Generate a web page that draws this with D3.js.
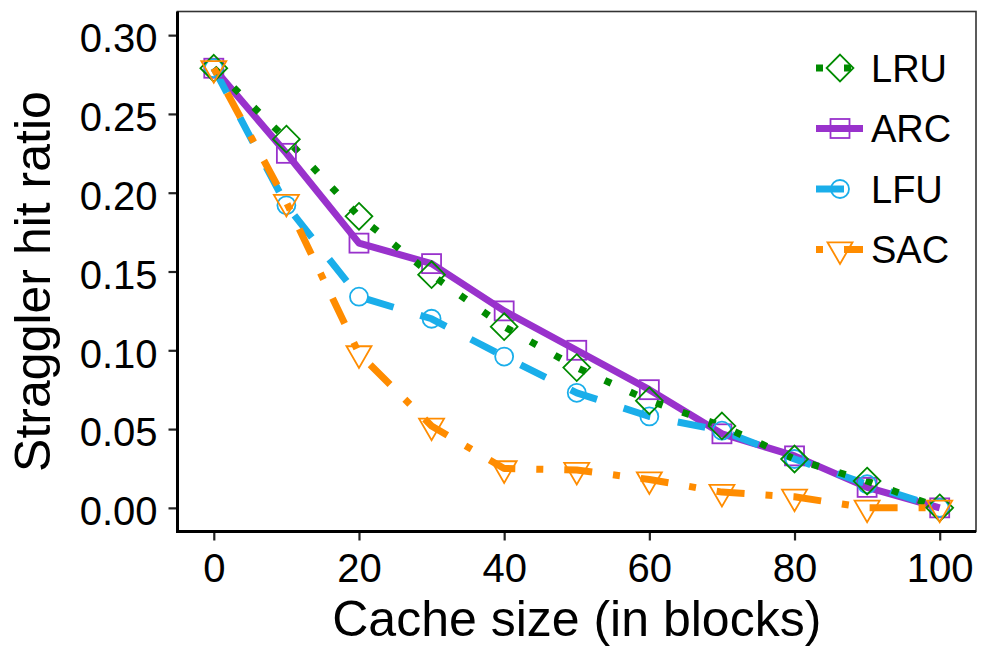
<!DOCTYPE html>
<html>
<head>
<meta charset="utf-8">
<script src="https://cdn.jsdelivr.net/npm/d3@7"></script>
<style>
  html, body { margin: 0; padding: 0; background: #fff; }
  svg { display: block; font-family: "Liberation Sans", Arial, Helvetica, sans-serif; }
</style>
</head>
<body>
<svg id="chart" width="984" height="646"></svg>
<script>
// ---- Data ----
const cacheSizes = [0, 10, 20, 30, 40, 50, 60, 70, 80, 90, 100];
const lruValues = [0.279, 0.234, 0.185, 0.148, 0.115, 0.089, 0.068, 0.052, 0.031, 0.017, 0.000];
const arcValues = [0.279, 0.225, 0.168, 0.155, 0.125, 0.100, 0.075, 0.047, 0.033, 0.013, 0.000];
const lfuValues = [0.279, 0.192, 0.134, 0.120, 0.096, 0.073, 0.058, 0.049, 0.031, 0.015, 0.000];
const sacValues = [0.279, 0.194, 0.098, 0.052, 0.025, 0.024, 0.018, 0.010, 0.007, 0.000, 0.000];
const xTicks = [0, 20, 40, 60, 80, 100];
const yTicks = [0.00, 0.05, 0.10, 0.15, 0.20, 0.25, 0.30];
const legendOrder = ["LRU", "ARC", "LFU", "SAC"];
const drawOrder = ["ARC", "LFU", "LRU", "SAC"];

const seriesValues = { LRU: lruValues, ARC: arcValues, LFU: lfuValues, SAC: sacValues };
const styles = {
  LRU: { color: "#008B00", dash: "7 21", shape: "diamond" },
  ARC: { color: "#9932CC", dash: null, shape: "square" },
  LFU: { color: "#1AAEEA", dash: "28 28", shape: "circle" },
  SAC: { color: "#FF8C00", dash: "7 21 28 21", shape: "triangle" }
};

// ---- Layout ----
const panel = { left: 177.5, right: 976, top: 11.5, bottom: 531.5 };
const svg = d3.select("#chart");

const x = d3.scaleLinear().domain([-5, 105]).range([panel.left, panel.right]);
const y = d3.scaleLinear().domain([-0.015, 0.315]).range([panel.bottom, panel.top]);

// panel border (thin top/right)
svg.append("rect")
  .attr("x", panel.left).attr("y", panel.top)
  .attr("width", panel.right - panel.left).attr("height", panel.bottom - panel.top)
  .attr("fill", "#fff").attr("stroke", "#333").attr("stroke-width", 1.6);

// axes
const xAxis = d3.axisBottom(x).tickValues(xTicks).tickSize(9).tickPadding(12).tickFormat(d3.format("d"));
const yAxis = d3.axisLeft(y).tickValues(yTicks).tickSize(9).tickPadding(10).tickFormat(d3.format(".2f"));

const gx = svg.append("g").attr("transform", `translate(0,${panel.bottom})`).call(xAxis);
const gy = svg.append("g").attr("transform", `translate(${panel.left},0)`).call(yAxis);

[gx, gy].forEach(g => {
  g.select(".domain").remove();
  g.selectAll(".tick line").attr("stroke", "#222").attr("stroke-width", 2.2);
  g.selectAll(".tick text").attr("fill", "#000").attr("font-size", 40)
    .attr("font-family", "'Liberation Sans', Arial, sans-serif");
});
gx.selectAll(".tick text").attr("dy", null).attr("y", null)
  .attr("transform", null).each(function() {
    d3.select(this).attr("y", 582 - panel.bottom).attr("dy", 0);
  });
gy.selectAll(".tick text").attr("dy", "0.42em").attr("x", -20);

// thick left/bottom axis lines
svg.append("line").attr("x1", panel.left).attr("x2", panel.left)
  .attr("y1", panel.top).attr("y2", panel.bottom + 1.5)
  .attr("stroke", "#000").attr("stroke-width", 3);
svg.append("line").attr("x1", panel.left - 1.5).attr("x2", panel.right)
  .attr("y1", panel.bottom).attr("y2", panel.bottom)
  .attr("stroke", "#000").attr("stroke-width", 3);

// axis titles
svg.append("text")
  .attr("x", (panel.left + panel.right) / 2).attr("y", 636)
  .attr("text-anchor", "middle").attr("font-size", 50).attr("fill", "#000")
  .text("Cache size (in blocks)");
svg.append("text")
  .attr("transform", `translate(50,${(panel.top + panel.bottom) / 2 + 10}) rotate(-90)`)
  .attr("text-anchor", "middle").attr("font-size", 50).attr("fill", "#000")
  .text("Straggler hit ratio");

// ---- Marker drawing ----
function drawMarker(g, shape, cx, cy, color) {
  const sw = 1.8;
  if (shape === "diamond") {
    const r = 13.4;
    g.append("path").attr("d", `M${cx},${cy - r}L${cx + r},${cy}L${cx},${cy + r}L${cx - r},${cy}Z`)
      .attr("fill", "none").attr("stroke", color).attr("stroke-width", sw);
  } else if (shape === "square") {
    const h = 9.5;
    g.append("rect").attr("x", cx - h).attr("y", cy - h).attr("width", 2 * h).attr("height", 2 * h)
      .attr("fill", "none").attr("stroke", color).attr("stroke-width", sw);
  } else if (shape === "circle") {
    g.append("circle").attr("cx", cx).attr("cy", cy).attr("r", 9)
      .attr("fill", "none").attr("stroke", color).attr("stroke-width", sw);
  } else if (shape === "triangle") {
    const hw = 12.5, r = 14.4;
    g.append("path").attr("d", `M${cx - hw},${cy - r / 2}L${cx + hw},${cy - r / 2}L${cx},${cy + r}Z`)
      .attr("fill", "none").attr("stroke", color).attr("stroke-width", sw);
  }
}

// ---- Lines ----
const line = d3.line().x(d => x(d[0])).y(d => y(d[1]));
const linesG = svg.append("g");
drawOrder.forEach(name => {
  const data = cacheSizes.map((c, i) => [c, seriesValues[name][i]]);
  const st = styles[name];
  const p = linesG.append("path").datum(data)
    .attr("d", line).attr("fill", "none")
    .attr("stroke", st.color).attr("stroke-width", 7)
    .attr("stroke-linejoin", "round").attr("stroke-linecap", "butt");
  if (st.dash) p.attr("stroke-dasharray", st.dash);
});

// ---- Points ----
const pointsG = svg.append("g");
drawOrder.forEach(name => {
  const st = styles[name];
  cacheSizes.forEach((c, i) => {
    drawMarker(pointsG, st.shape, x(c), y(seriesValues[name][i]), st.color);
  });
});

// ---- Legend ----
const legendG = svg.append("g");
legendOrder.forEach((name, i) => {
  const st = styles[name];
  const cy = 68 + i * 60.5;
  const l = legendG.append("line").attr("x1", 816).attr("x2", 863).attr("y1", cy).attr("y2", cy)
    .attr("stroke", st.color).attr("stroke-width", 7).attr("stroke-linecap", "butt");
  if (st.dash) l.attr("stroke-dasharray", st.dash);
  drawMarker(legendG, st.shape, 840, cy, st.color);
  legendG.append("text").attr("x", 871).attr("y", cy + 13.5)
    .attr("font-size", 38).attr("fill", "#000").text(name);
});
</script>
</body>
</html>
